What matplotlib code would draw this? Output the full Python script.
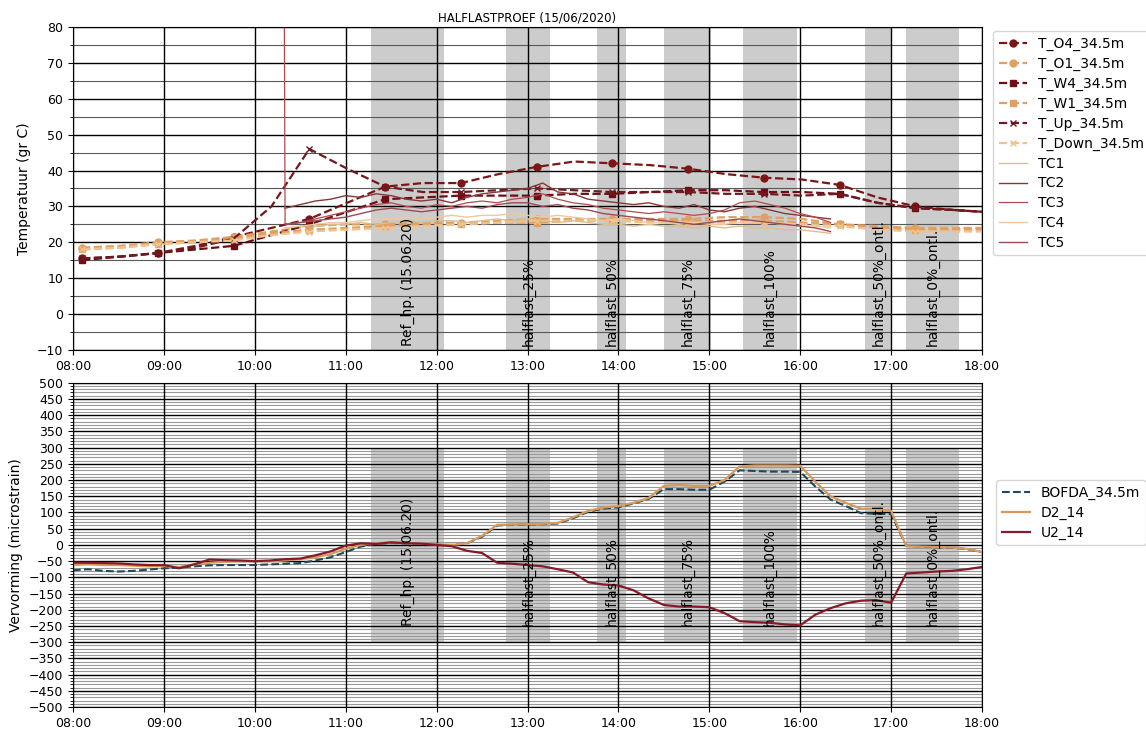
import numpy as np
import pandas as pd
import matplotlib
matplotlib.use("Agg")
import matplotlib.pyplot as plt
import matplotlib.dates as mdates
from matplotlib.ticker import MultipleLocator

DAY = "2020-06-15 "

def tt(lst):
    return pd.to_datetime([DAY + t for t in lst])

# --- temperature sensors (dashed, markers every other point)
t_times = ["08:06", "08:31", "08:56", "09:21", "09:46", "10:11", "10:36", "11:01",
           "11:26", "11:51", "12:16", "12:41", "13:06", "13:31", "13:56", "14:21",
           "14:46", "15:11", "15:36", "16:01", "16:26", "16:51", "17:16", "17:41", "18:00"]
T_O4 = [15.5, 16.0, 17.0, 19.0, 21.5, 24.0, 26.5, 31.0, 35.5, 36.5, 36.5, 39.0, 41.0,
        42.5, 42.0, 41.5, 40.5, 39.0, 38.0, 37.5, 36.0, 32.5, 30.0, 29.0, 28.5]
T_O1 = [18.5, 19.0, 20.0, 20.5, 21.5, 23.0, 24.5, 25.0, 25.0, 25.5, 25.5, 26.0, 26.5,
        26.5, 26.5, 26.5, 26.5, 27.0, 27.0, 26.5, 25.0, 24.5, 24.0, 24.0, 24.0]
T_W4 = [15.0, 16.0, 17.0, 18.0, 19.0, 22.0, 25.0, 28.5, 32.0, 32.5, 33.0, 33.0, 33.0,
        33.5, 33.5, 34.0, 34.5, 34.5, 34.0, 34.0, 33.5, 31.0, 29.5, 29.0, 28.5]
T_W1 = [18.0, 18.5, 19.5, 20.0, 21.0, 22.5, 23.5, 24.0, 24.5, 25.0, 25.0, 25.5, 25.5,
        26.0, 26.0, 26.0, 26.0, 26.0, 26.0, 25.5, 25.0, 24.0, 23.5, 23.5, 23.5]
T_Up = [15.5, 16.0, 17.0, 18.5, 21.0, 30.0, 46.0, 40.5, 35.5, 34.0, 34.0, 34.5, 35.0,
        34.5, 34.0, 34.0, 34.0, 33.5, 33.5, 33.0, 33.5, 31.0, 29.5, 29.0, 28.5]
T_Down = [18.0, 18.5, 19.5, 20.0, 20.5, 22.0, 23.0, 23.5, 24.0, 24.5, 25.0, 25.5, 26.0,
          26.0, 26.0, 25.5, 25.5, 25.5, 25.5, 25.0, 24.5, 23.5, 23.0, 23.0, 23.0]

# --- thermocouples, every 10 min from 10:20 to 16:20
tc_times = pd.date_range(DAY + "10:20", DAY + "16:20", freq="10min")
TC1 = [24.0, 24.5, 24.5, 25.0, 25.0, 25.5, 25.0, 25.5, 26.0, 25.5, 26.0, 26.0, 25.5,
       26.0, 26.5, 26.0, 26.5, 26.0, 25.5, 26.0, 25.5, 25.0, 25.0, 24.5, 25.0, 24.5,
       24.5, 24.0, 24.5, 24.0, 24.5, 24.0, 24.0, 23.5, 23.5, 23.0, 22.5]
TC2 = [29.5, 30.5, 31.5, 32.0, 33.0, 32.5, 33.5, 33.0, 32.0, 31.5, 32.0, 31.0, 32.5,
       33.5, 34.0, 34.5, 35.0, 36.5, 34.0, 33.5, 32.0, 31.5, 31.0, 30.5, 31.0, 30.0,
       29.5, 30.5, 29.0, 28.5, 29.5, 30.0, 29.0, 28.0, 27.5, 27.0, 26.5]
TC3 = [25.0, 25.5, 26.5, 27.5, 28.5, 29.5, 30.5, 31.0, 30.0, 29.5, 30.5, 30.0, 31.0,
       31.5, 31.0, 32.0, 32.5, 33.5, 32.0, 31.0, 30.5, 29.5, 29.0, 28.5, 28.0, 28.5,
       28.0, 27.5, 28.0, 29.0, 31.0, 31.5, 30.5, 29.5, 28.0, 27.0, 25.5]
TC4 = [24.0, 24.5, 25.0, 25.5, 25.5, 26.0, 26.5, 26.5, 27.0, 26.5, 27.0, 27.5, 27.0,
       27.5, 27.5, 28.0, 27.5, 27.0, 27.5, 27.0, 26.5, 26.0, 26.5, 26.0, 25.5, 25.5,
       25.0, 25.5, 25.0, 25.0, 25.5, 26.0, 25.5, 25.0, 24.5, 24.5, 24.0]
TC5 = [25.0, 25.5, 26.0, 26.5, 27.0, 28.0, 29.0, 29.5, 29.0, 28.5, 29.0, 29.5, 30.0,
       29.5, 30.5, 31.0, 31.0, 30.0, 30.5, 29.5, 29.0, 28.0, 27.5, 27.0, 26.5, 26.0,
       25.5, 25.0, 25.5, 26.0, 26.5, 26.0, 25.5, 25.0, 24.5, 24.0, 23.0]
TC3_spike = 250.0  # first reading of TC3 at 10:18, off the chart

# --- strain, every 10 min from 08:00 to 18:00
s_times = pd.date_range(DAY + "08:00", DAY + "18:00", freq="10min")
BOFDA = [-78, -75, -80, -82, -80, -76, -72, -70, -66, -63, -62, -62, -62, -60, -58, -56,
         -48, -38, -22, -5, 3, 6, 5, 3, 0, 0, 5, 25, 60, 62, 63, 64, 66, 82, 102, 112,
         116, 128, 142, 172, 172, 170, 170, 195, 230, 228, 226, 226, 225, 180, 140, 120,
         98, 96, 95, -3, -5, -7, -9, -13, -22]
D2_14 = [-62, -60, -62, -62, -64, -66, -65, -68, -60, -55, -52, -50, -50, -50, -48, -44,
         -38, -28, -12, 0, 5, 8, 6, 4, 2, 0, 5, 28, 62, 63, 64, 65, 68, 85, 105, 115,
         120, 130, 145, 182, 185, 182, 182, 200, 242, 245, 245, 245, 244, 195, 150, 130,
         112, 110, 105, -4, -5, -6, -8, -12, -22]
U2_14 = [-55, -55, -56, -57, -60, -62, -62, -72, -60, -45, -47, -48, -50, -48, -44, -42,
         -32, -20, -2, 5, 3, 8, 5, 4, 0, -4, -18, -25, -55, -58, -62, -66, -75, -85, -115,
         -122, -125, -140, -165, -185, -190, -190, -192, -210, -235, -238, -240, -245,
         -248, -215, -195, -180, -172, -170, -178, -88, -85, -82, -80, -75, -68]

# --- load steps
span_labels = ["Ref_hp. (15.06.20)", "halflast_25%", "halflast_50%", "halflast_75%",
               "halflast_100%", "halflast_50%_ontl.", "halflast_0%_ontl."]
span_start = ["11:17", "12:46", "13:46", "14:30", "15:22", "16:43", "17:10"]
span_end = ["12:05", "13:15", "14:05", "15:01", "15:58", "17:00", "17:45"]

dark = "#7b1616"
orange = "#e0a064"
light = "#f0c38c"

fig = plt.figure(figsize=(11.46, 7.29), dpi=100)
ax1 = fig.add_axes([0.0637, 0.520, 0.7932, 0.443])
ax2 = fig.add_axes([0.0637, 0.030, 0.7932, 0.445])

tT = tt(t_times)
mk = list(range(0, 24, 2))
kw = dict(ls="--", lw=1.6, markevery=mk, ms=5)
ax1.plot(tT, T_O4, color=dark, marker="o", label="T_O4_34.5m", **kw)
ax1.plot(tT, T_O1, color=orange, marker="o", label="T_O1_34.5m", **kw)
ax1.plot(tT, T_W4, color="#700c14", marker="s", label="T_W4_34.5m", **kw)
ax1.plot(tT, T_W1, color=orange, marker="s", label="T_W1_34.5m", **kw)
ax1.plot(tT, T_Up, color="#6e1a1e", marker="x", label="T_Up_34.5m", **kw)
ax1.plot(tT, T_Down, color=light, marker="x", label="T_Down_34.5m", **kw)

ax1.plot(tc_times, TC1, color="#dcc08c", lw=1, label="TC1")
ax1.plot(tc_times, TC2, color="#873838", lw=1, label="TC2")
tc3_t = pd.DatetimeIndex([pd.Timestamp(DAY + "10:18")]).append(tc_times)
ax1.plot(tc3_t, [TC3_spike] + TC3, color="#b04c4c", lw=0.9, label="TC3")
ax1.plot(tc_times, TC4, color="#f0c8a0", lw=1, label="TC4")
ax1.plot(tc_times, TC5, color="#9c4a56", lw=1, label="TC5")

ax2.plot(s_times, BOFDA, color="#1d4b5a", ls="--", lw=1.5, label="BOFDA_34.5m")
ax2.plot(s_times, D2_14, color="#d89a5c", lw=1.6, label="D2_14")
ax2.plot(s_times, U2_14, color="#861a28", lw=1.6, label="U2_14")

for lab, a, b in zip(span_labels, span_start, span_end):
    t0, t1 = pd.Timestamp(DAY + a), pd.Timestamp(DAY + b)
    mid = t0 + (t1 - t0) / 2
    ax1.axvspan(t0, t1, color="grey", alpha=0.4, lw=0, zorder=0.5)
    ax2.axvspan(t0, t1, ymin=0.2, ymax=0.8, color="grey", alpha=0.4, lw=0, zorder=0.5)
    ax1.text(mid, -9, lab, rotation=90, ha="center", va="bottom", fontsize=10)
    ax2.text(mid, -250, lab, rotation=90, ha="center", va="bottom", fontsize=10)

x0, x1 = pd.Timestamp(DAY + "08:00"), pd.Timestamp(DAY + "18:00")
for ax in (ax1, ax2):
    ax.set_xlim(x0, x1)
    ax.xaxis.set_major_locator(mdates.HourLocator())
    ax.xaxis.set_major_formatter(mdates.DateFormatter("%H:%M"))
    ax.tick_params(labelsize=9)
    ax.grid(which="major", color="black", lw=1.0)
    # horizontal grid first so the hour lines stay solid on top of it
    ax.yaxis.set_zorder(1.2)
    ax.xaxis.set_zorder(1.4)

ax1.set_ylim(-10, 80)
ax1.yaxis.set_major_locator(MultipleLocator(10))
ax1.yaxis.set_minor_locator(MultipleLocator(5))
ax1.grid(which="minor", axis="y", color="0.35", lw=0.8)
ax1.set_ylabel("Temperatuur (gr C)", fontsize=10)
ax1.set_title("HALFLASTPROEF (15/06/2020)", fontsize=8.5, pad=4)

ax2.set_ylim(-500, 500)
ax2.yaxis.set_major_locator(MultipleLocator(50))
ax2.yaxis.set_minor_locator(MultipleLocator(10))
ax2.grid(which="minor", axis="y", color="0.6", lw=0.8)
ax2.set_ylabel("Vervorming (microstrain)", fontsize=10)

ax1.legend(loc="upper left", bbox_to_anchor=(1.008, 1.0), fontsize=10,
           handlelength=2.0, labelspacing=0.42, borderaxespad=0.3)
ax2.legend(loc="center left", bbox_to_anchor=(1.008, 0.6), fontsize=10,
           handlelength=2.0, labelspacing=0.42)

fig.savefig("out.png", dpi=100)
